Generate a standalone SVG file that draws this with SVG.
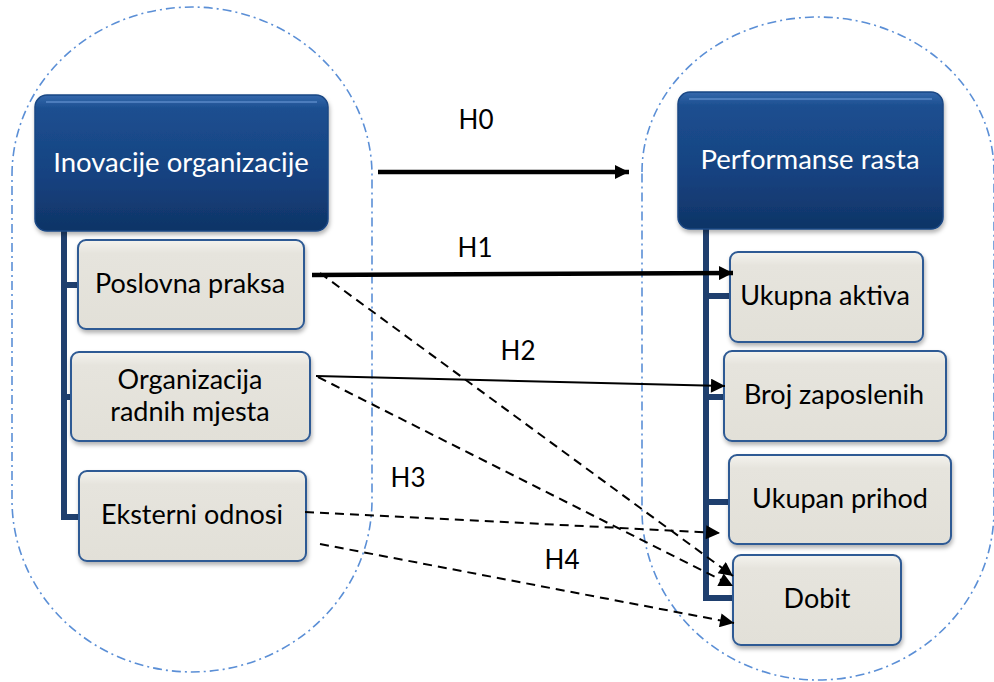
<svg xmlns="http://www.w3.org/2000/svg" width="994" height="682" viewBox="0 0 994 682">
<defs>
<linearGradient id="gDark" x1="0" y1="0" x2="0" y2="1">
<stop offset="0" stop-color="#3468AC"/>
<stop offset="0.1" stop-color="#1C4F90"/>
<stop offset="0.6" stop-color="#164280"/>
<stop offset="1" stop-color="#0F3466"/>
</linearGradient>
<linearGradient id="gLight" x1="0" y1="0" x2="0" y2="1">
<stop offset="0" stop-color="#F4F3EE"/>
<stop offset="0.15" stop-color="#E6E4DD"/>
<stop offset="1" stop-color="#E2E0D8"/>
</linearGradient>
<marker id="ah" viewBox="0 0 10 10" refX="10" refY="5" markerWidth="16" markerHeight="14" markerUnits="userSpaceOnUse" orient="auto">
<path d="M0,0 L10,5 L0,10 Z" fill="#000"/>
</marker>
<filter id="sh" x="-10%" y="-10%" width="120%" height="130%">
<feDropShadow dx="1" dy="3" stdDeviation="2" flood-color="#000" flood-opacity="0.3"/>
</filter>
</defs>
<style>
.oval{fill:none;stroke:#5B8FD6;stroke-width:1.6;stroke-dasharray:9 4 2 4}
.bar{fill:none;stroke:#1F3F6E;stroke-width:6;stroke-linejoin:miter}
.dark{fill:url(#gDark);stroke:#1A4784;stroke-width:1.5;filter:url(#sh)}
.light{fill:url(#gLight);stroke:#2E5A94;stroke-width:2;filter:url(#sh)}
.tw{font-family:Lato,"Open Sans","Liberation Sans",sans-serif;font-size:27.5px;fill:#FFFFFF;text-anchor:middle}
.tb{font-family:Lato,"Open Sans","Liberation Sans",sans-serif;font-size:27px;fill:#000000;text-anchor:middle}
.lbl{font-family:Lato,"Open Sans","Liberation Sans",sans-serif;font-size:26px;fill:#000000;text-anchor:middle}
.thick{stroke:#000;stroke-width:4.5;fill:none;marker-end:url(#ah)}
.thin{stroke:#000;stroke-width:2;fill:none;marker-end:url(#ah)}
.dash{stroke:#000;stroke-width:2;fill:none;stroke-dasharray:9 6;marker-end:url(#ah)}
.hl{fill:none;stroke:#5C8CCB;stroke-width:2;opacity:0.7}
</style>
<rect width="994" height="682" fill="#FFFFFF"/>
<g id="ovals">
<path class="oval" d="M12,175 A180,168 0 0 1 372,175 V500 A180,172 0 0 1 12,500 Z"/>
<path class="oval" d="M642,172 A176,155 0 0 1 994,172 V510 A176,170 0 0 1 642,510 Z"/>
</g>
<g id="bars">
<path class="bar" d="M64,231 V517 H80 M64,285 H78 M64,397 H72"/>
<path class="bar" d="M706,229 V598 H734 M706,296 H730 M706,397 H724 M706,502 H729"/>
</g>
<g id="node-inovacije">
<rect class="dark" x="35" y="95" width="293" height="136" rx="12"/>
<path class="hl" d="M46,102 H317"/>
<text class="tw" x="181" y="172">Inovacije organizacije</text>
</g>
<g id="node-poslovna">
<rect class="light" x="78" y="240" width="226" height="89" rx="8"/>
<text class="tb" x="190" y="293">Poslovna praksa</text>
</g>
<g id="node-organizacija">
<rect class="light" x="71" y="352" width="239" height="89" rx="8"/>
<text class="tb" x="190" y="389">Organizacija</text>
<text class="tb" x="190" y="421">radnih mjesta</text>
</g>
<g id="node-eksterni">
<rect class="light" x="79" y="471" width="227" height="90" rx="8"/>
<text class="tb" x="192" y="524">Eksterni odnosi</text>
</g>
<g id="node-performanse">
<rect class="dark" x="678" y="92" width="265" height="137" rx="12"/>
<path class="hl" d="M689,99 H932"/>
<text class="tw" x="810" y="169">Performanse rasta</text>
</g>
<g id="node-aktiva">
<rect class="light" x="730" y="252" width="193" height="90" rx="8"/>
<text class="tb" x="825" y="305">Ukupna aktiva</text>
</g>
<g id="node-zaposlenih">
<rect class="light" x="724" y="351" width="222" height="90" rx="8"/>
<text class="tb" x="834" y="404">Broj zaposlenih</text>
</g>
<g id="node-prihod">
<rect class="light" x="729" y="455" width="222" height="89" rx="8"/>
<text class="tb" x="840" y="508">Ukupan prihod</text>
</g>
<g id="node-dobit">
<rect class="light" x="733" y="555" width="168" height="90" rx="8"/>
<text class="tb" x="817" y="608">Dobit</text>
</g>
<g id="connectors">
<line class="thick" x1="378" y1="172" x2="629" y2="172"/>
<line class="thick" x1="312" y1="275" x2="733" y2="273"/>
<line class="thin" x1="316" y1="376" x2="725" y2="386"/>
<line class="dash" x1="320" y1="273" x2="733" y2="576"/>
<line class="dash" x1="318" y1="377" x2="733" y2="586"/>
<line class="dash" x1="305" y1="512" x2="720" y2="533"/>
<line class="dash" x1="320" y1="544" x2="734" y2="623"/>
</g>
<g id="labels">
<text class="lbl" x="476" y="129">H0</text>
<text class="lbl" x="475" y="257">H1</text>
<text class="lbl" x="518" y="360">H2</text>
<text class="lbl" x="408" y="487">H3</text>
<text class="lbl" x="562" y="569">H4</text>
</g>
</svg>
